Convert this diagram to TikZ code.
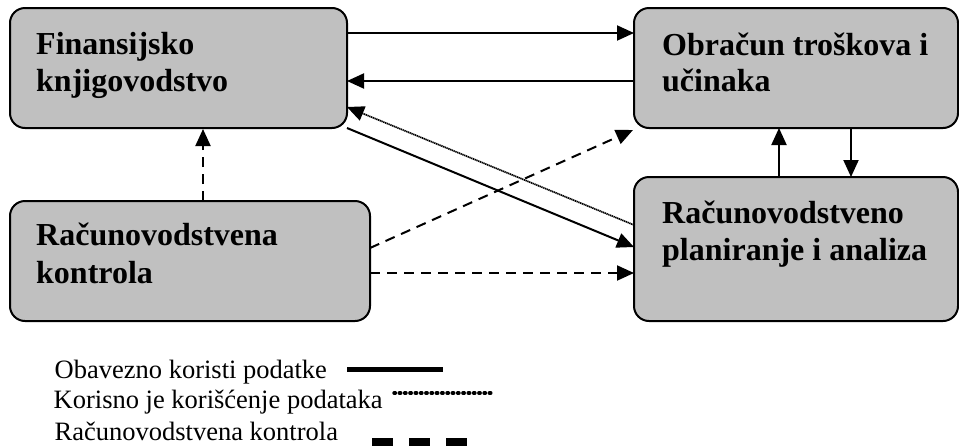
\documentclass[tikz,border=0pt]{standalone}
\usepackage{fontspec}
\setmainfont{Liberation Serif}
\usetikzlibrary{arrows.meta}
\definecolor{boxgray}{HTML}{C0C0C0}
\tikzset{
  box/.style={draw=black, line width=2pt, fill=boxgray, rounded corners=15pt,
    inner sep=0pt, outer sep=0pt, anchor=north west},
  title/.style={anchor=base west, inner sep=0pt, font=\bfseries\fontsize{32}{38}\selectfont},
  legtext/.style={anchor=base west, inner sep=0pt, font=\fontsize{26.5}{31}\selectfont},
  tip/.style={-{Triangle[length=17pt 0 0,width=15pt 0 0]}},
  must/.style={tip, line width=2pt},
  useful/.style={tip, line width=1.7pt, dash pattern=on 1.3pt off 0.6pt},
  ctrl/.style={tip, line width=2pt, dash pattern=on 10pt off 7pt},
}
\begin{document}
\begin{tikzpicture}[x=1pt,y=-1pt]
\useasboundingbox (0,0) rectangle (959,445);
% boxes
\node[box, minimum width=337pt, minimum height=120pt] (A) at (10,8) {};
\node[box, minimum width=324pt, minimum height=120pt] (B) at (634,8) {};
\node[box, minimum width=360pt, minimum height=120pt] (C) at (10,201) {};
\node[box, minimum width=324pt, minimum height=144pt] (D) at (634,177) {};
% titles
\node[title] (A1) at (36,54.5) {Finansijsko};
\node[title] (A2) at (36,91) {knjigovodstvo};
\node[title] (B1) at (662,55) {Obračun troškova i};
\node[title] (B2) at (662,91) {učinaka};
\node[title] (C1) at (36,245) {Računovodstvena};
\node[title] (C2) at (36,283) {kontrola};
\node[title] (D1) at (662,223) {Računovodstveno};
\node[title] (D2) at (662,260) {planiranje i analiza};
% connectors
\draw[must] ([yshift=35pt]A.east) -- ([yshift=35pt]B.west);
\draw[must] ([yshift=-13pt]B.west) -- ([yshift=-13pt]A.east);
\draw[useful] ([yshift=24pt]D.west) -- ([yshift=-39pt]A.east);
\draw[must] (A.south east) -- ([yshift=2pt]D.west);
\draw[ctrl] ([yshift=13pt]C.east) -- ([xshift=-1pt,yshift=-2pt]B.south west);
\draw[ctrl] ([yshift=-12pt]C.east) -- ([yshift=-24pt]D.west);
\draw[ctrl] ([xshift=13pt]C.north) -- ([xshift=24.5pt,yshift=-1pt]A.south);
\draw[must] ([xshift=-17pt]D.north) -- ([xshift=-17pt]B.south);
\draw[must] ([xshift=55pt]B.south) -- ([xshift=55pt]D.north);
% legend
\node[legtext] (L1) at (54.5,378) {Obavezno koristi podatke};
\node[legtext] (L2) at (53.5,408.5) {Korisno je korišćenje podataka};
\node[legtext] (L3) at (54.5,440) {Računovodstvena kontrola};
\draw[line width=5pt] (347,369) -- (443,369);
\draw[line width=3.4pt, line cap=round, dash pattern=on 1.4pt off 3.9pt] (394,393) -- (492,393);
\draw[line width=8pt, dash pattern=on 21pt off 16pt] (372,442) -- (467,442);
\end{tikzpicture}
\end{document}
